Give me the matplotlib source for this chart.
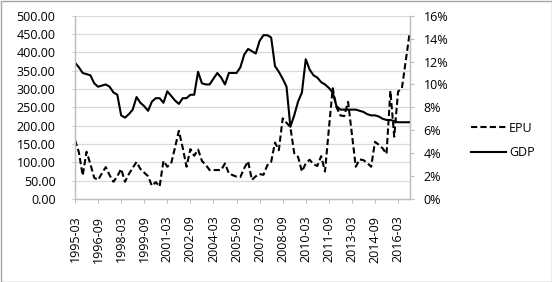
import numpy as np
import matplotlib
matplotlib.use('Agg')
import matplotlib.pyplot as plt
from matplotlib.lines import Line2D
from matplotlib.patches import Rectangle

plt.rcParams['font.family'] = ['Open Sans', 'DejaVu Sans']

# quarterly categories 1995-03 .. 2016-12
quarters = ['%d-%02d' % (1995 + i // 4, (i % 4 + 1) * 3) for i in range(88)]

# EPU index (left axis)
epu = [161, 128, 64, 129, 95, 58, 52, 70, 87, 65,
       47, 62, 82, 47, 68, 85, 101, 82, 72, 62,
       36, 46, 34, 104, 88, 97, 140, 186, 140, 88,
       136, 118, 135, 104, 93, 79, 79, 79, 79, 97,
       70, 65, 61, 60, 84, 103, 52, 62, 68, 66,
       92, 101, 154, 133, 220, 208, 196, 125, 115, 75,
       97, 107, 95, 90, 117, 75, 190, 302, 250, 228,
       226, 265, 177, 88, 108, 106, 98, 88, 156, 148,
       138, 123, 295, 170, 293, 302, 377, 452]

# GDP growth in % (right axis)
gdp = [11.9, 11.5, 11.0, 10.9, 10.8, 10.1, 9.8, 9.9, 10.0, 9.8,
       9.3, 9.1, 7.3, 7.1, 7.4, 7.8, 8.9, 8.4, 8.1, 7.7,
       8.5, 8.8, 8.8, 8.4, 9.4, 9.0, 8.6, 8.3, 8.8, 8.8,
       9.1, 9.1, 11.1, 10.1, 10.0, 10.0, 10.5, 11.0, 10.6, 10.0,
       11.0, 11.0, 11.0, 11.5, 12.6, 13.1, 12.9, 12.7, 13.8, 14.3,
       14.3, 14.1, 11.6, 11.1, 10.5, 9.8, 6.3, 7.3, 8.5, 9.3,
       12.2, 11.3, 10.8, 10.6, 10.2, 10.0, 9.7, 9.3, 8.1, 7.8,
       7.8, 7.8, 7.8, 7.8, 7.7, 7.6, 7.4, 7.3, 7.3, 7.2,
       7.0, 6.9, 6.9, 6.8, 6.7, 6.7, 6.7, 6.7]

W, H = 552, 282
fig = plt.figure(figsize=(W / 100, H / 100), dpi=100)
ax = fig.add_axes([75 / W, 1 - 199 / H, (409.6 - 75) / W, (199 - 15.7) / H])
ax2 = ax.twinx()

dash = (0, (3, 1.5))
x = np.arange(len(quarters))
ax.plot(x, epu, color='black', lw=1.5, linestyle=dash)
ax2.plot(x, gdp, color='black', lw=1.5)

axis_col = '#bfbfbf'
grid_col = '#d9d9d9'
fs = 9

ax.set_xlim(0, 87)
ax.set_ylim(0, 500)
ax.set_yticks(np.arange(0, 501, 50))
ax.set_yticklabels(['%.2f' % v for v in np.arange(0, 501, 50)], fontsize=fs)
ax.yaxis.grid(True, color=grid_col, lw=0.9)
ax.set_axisbelow(True)
ax.tick_params(axis='y', length=3, color=grid_col, pad=11)

ticks = list(range(0, 88, 6))
ax.set_xticks(ticks)
ax.set_xticklabels([quarters[i] for i in ticks], rotation=90, fontsize=fs)
ax.tick_params(axis='x', length=3, color=axis_col, pad=9)

ax2.set_ylim(0, 16)
ax2.set_yticks(np.arange(0, 17, 2))
ax2.set_yticklabels(['%d%%' % v for v in np.arange(0, 17, 2)], fontsize=fs)
ax2.tick_params(axis='y', length=3, color=axis_col, pad=7)

for a in (ax, ax2):
    a.spines['top'].set_visible(False)
    for s in ('left', 'right', 'bottom'):
        a.spines[s].set_color(axis_col)
        a.spines[s].set_linewidth(0.9)

handles = [Line2D([], [], color='black', lw=1.5, linestyle=dash),
           Line2D([], [], color='black', lw=1.5)]
fig.legend(handles, ['EPU', 'GDP'], loc='center left',
           bbox_to_anchor=(471 / W, 1 - 140.5 / H), frameon=False,
           fontsize=fs, handlelength=2.8, handletextpad=0.25,
           labelspacing=0.95, borderpad=0, borderaxespad=0)

fig.patches.append(Rectangle((0.5 / W, 0.5 / H), 1 - 1 / W, 1 - 1 / H,
                             transform=fig.transFigure, fill=False,
                             edgecolor='#a6a6a6', lw=1))

fig.savefig('out.png', dpi=100)
